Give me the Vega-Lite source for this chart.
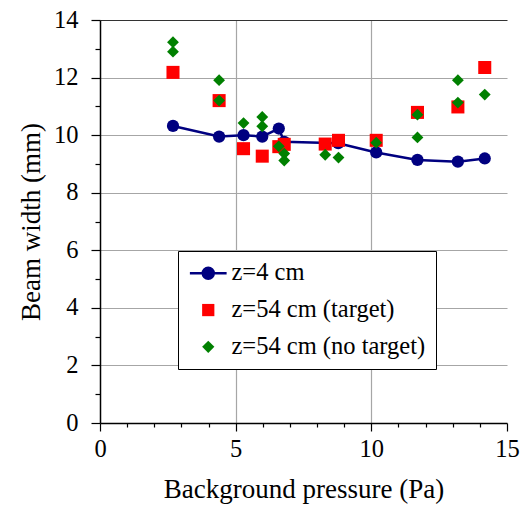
{
  "$schema": "https://vega.github.io/schema/vega-lite/v6.json",
  "autosize": {"type": "none"},
  "padding": {"left": 100, "top": 20, "right": 17, "bottom": 85},
  "width": 407,
  "height": 403,
  "config": {
    "view": {"stroke": null},
    "font": "Liberation Serif",
    "axis": {
      "labelFont": "Liberation Serif",
      "titleFont": "Liberation Serif",
      "labelColor": "black",
      "titleColor": "black",
      "titleFontWeight": "normal",
      "domainColor": "black",
      "domainWidth": 1.5,
      "tickColor": "black",
      "tickWidth": 1.2,
      "labelFontSize": 24.5,
      "titleFontSize": 27
    },
    "legend": {
      "labelFont": "Liberation Serif",
      "title": null,
      "orient": "none",
      "legendX": 78,
      "legendY": 231,
      "fillColor": "white",
      "strokeColor": "black",
      "padding": 10,
      "symbolOffset": 8,
      "labelOffset": 11,
      "rowPadding": 11.8,
      "labelFontSize": 24.5,
      "labelLimit": 400,
      "labelColor": "black",
      "symbolSize": 150,
      "symbolOpacity": 1,
      "symbolStrokeWidth": 2.5
    }
  },
  "data": {
    "values": [
      {"series": "z=4 cm", "p": 2.69, "w": 10.32},
      {"series": "z=4 cm", "p": 4.39, "w": 9.95},
      {"series": "z=4 cm", "p": 5.29, "w": 10.0},
      {"series": "z=4 cm", "p": 5.98, "w": 9.95},
      {"series": "z=4 cm", "p": 6.59, "w": 10.23},
      {"series": "z=4 cm", "p": 6.79, "w": 9.77},
      {"series": "z=4 cm", "p": 8.78, "w": 9.72},
      {"series": "z=4 cm", "p": 10.18, "w": 9.4},
      {"series": "z=4 cm", "p": 11.7, "w": 9.14},
      {"series": "z=4 cm", "p": 13.19, "w": 9.08},
      {"series": "z=4 cm", "p": 14.18, "w": 9.19},
      {"series": "z=54 cm (target)", "p": 2.69, "w": 12.18},
      {"series": "z=54 cm (target)", "p": 4.39, "w": 11.2},
      {"series": "z=54 cm (target)", "p": 5.29, "w": 9.53},
      {"series": "z=54 cm (target)", "p": 5.98, "w": 9.27},
      {"series": "z=54 cm (target)", "p": 6.59, "w": 9.6},
      {"series": "z=54 cm (target)", "p": 6.79, "w": 9.68},
      {"series": "z=54 cm (target)", "p": 8.3, "w": 9.69},
      {"series": "z=54 cm (target)", "p": 8.79, "w": 9.82},
      {"series": "z=54 cm (target)", "p": 10.18, "w": 9.82},
      {"series": "z=54 cm (target)", "p": 11.7, "w": 10.79},
      {"series": "z=54 cm (target)", "p": 13.19, "w": 10.98},
      {"series": "z=54 cm (target)", "p": 14.18, "w": 12.35},
      {"series": "z=54 cm (no target)", "p": 2.69, "w": 13.23},
      {"series": "z=54 cm (no target)", "p": 2.69, "w": 12.9},
      {"series": "z=54 cm (no target)", "p": 4.39, "w": 11.91},
      {"series": "z=54 cm (no target)", "p": 4.39, "w": 11.2},
      {"series": "z=54 cm (no target)", "p": 5.29, "w": 10.42},
      {"series": "z=54 cm (no target)", "p": 5.98, "w": 10.63},
      {"series": "z=54 cm (no target)", "p": 5.98, "w": 10.31},
      {"series": "z=54 cm (no target)", "p": 6.59, "w": 9.61},
      {"series": "z=54 cm (no target)", "p": 6.79, "w": 9.36},
      {"series": "z=54 cm (no target)", "p": 6.79, "w": 9.12},
      {"series": "z=54 cm (no target)", "p": 8.3, "w": 9.32},
      {"series": "z=54 cm (no target)", "p": 8.79, "w": 9.22},
      {"series": "z=54 cm (no target)", "p": 10.18, "w": 9.74},
      {"series": "z=54 cm (no target)", "p": 11.7, "w": 10.71},
      {"series": "z=54 cm (no target)", "p": 11.7, "w": 9.92},
      {"series": "z=54 cm (no target)", "p": 13.19, "w": 11.91},
      {"series": "z=54 cm (no target)", "p": 13.19, "w": 11.13},
      {"series": "z=54 cm (no target)", "p": 14.18, "w": 11.41}
    ]
  },
  "encoding": {
    "x": {
      "field": "p", "type": "quantitative",
      "scale": {"domain": [0, 15], "nice": false, "zero": false},
      "axis": {
        "title": "Background pressure (Pa)",
        "values": [0,1,2,3,4,5,6,7,8,9,10,11,12,13,14,15],
        "labelExpr": "datum.value % 5 === 0 ? datum.label : ''",
        "tickSize": {"condition": {"test": "datum.value % 5 === 0", "value": 8}, "value": 4},
        "grid": true,
        "gridColor": "#a6a6a6",
        "gridWidth": 1.2,
        "gridOpacity": {"condition": {"test": "datum.value === 5 || datum.value === 10", "value": 1}, "value": 0},
        "labelPadding": 6,
        "titlePadding": 16,
        "labelFlush": false
      }
    },
    "y": {
      "field": "w", "type": "quantitative",
      "scale": {"domain": [0, 14], "nice": false},
      "axis": {
        "title": "Beam width (mm)",
        "values": [0,1,2,3,4,5,6,7,8,9,10,11,12,13,14],
        "labelExpr": "datum.value % 2 === 0 ? datum.label : ''",
        "tickSize": {"condition": {"test": "datum.value % 2 === 0", "value": 9}, "value": 5},
        "grid": true,
        "gridColor": {"condition": {"test": "datum.value === 14", "value": "#333333"}, "value": "#a6a6a6"},
        "gridWidth": 1.2,
        "gridOpacity": {"condition": {"test": "datum.value % 2 === 0 && datum.value > 0", "value": 1}, "value": 0},
        "labelPadding": 13,
        "titlePadding": 8,
        "labelFlush": false
      }
    }
  },
  "layer": [
    {
      "transform": [{"filter": "datum.series === 'z=4 cm'"}],
      "mark": {"type": "line", "color": "#000080", "strokeWidth": 2.5}
    },
    {
      "transform": [{"filter": "datum.series === 'z=4 cm'"}],
      "mark": {"type": "point", "shape": "circle", "filled": true, "opacity": 1, "color": "#000080", "size": 150}
    },
    {
      "transform": [{"filter": "datum.series === 'z=54 cm (target)'"}],
      "mark": {"type": "point", "shape": "square", "filled": true, "opacity": 1, "color": "#ff0000", "size": 170}
    },
    {
      "transform": [{"filter": "datum.series === 'z=54 cm (no target)'"}],
      "mark": {"type": "point", "shape": "diamond", "filled": true, "opacity": 1, "color": "#008000", "size": 140}
    },
    {
      "mark": {"type": "point", "opacity": 0},
      "encoding": {
        "fill": {
          "field": "series", "type": "nominal",
          "scale": {"domain": ["z=4 cm", "z=54 cm (target)", "z=54 cm (no target)"], "range": ["#000080", "#ff0000", "#008000"]},
          "legend": {"title": null, "orient": "none", "legendX": 78, "legendY": 231}
        },
        "stroke": {
          "field": "series", "type": "nominal",
          "scale": {"domain": ["z=4 cm", "z=54 cm (target)", "z=54 cm (no target)"], "range": ["#000080", "transparent", "transparent"]},
          "legend": {"title": null, "orient": "none", "legendX": 78, "legendY": 231}
        },
        "shape": {
          "field": "series", "type": "nominal",
          "scale": {"domain": ["z=4 cm", "z=54 cm (target)", "z=54 cm (no target)"], "range": ["M-3,0H-0.9M0.9,0H3M-0.9,0A0.9,0.9,0,1,1,0.9,0A0.9,0.9,0,1,1,-0.9,0Z", "square", "diamond"]},
          "legend": {"title": null, "orient": "none", "legendX": 78, "legendY": 231}
        }
      }
    }
  ]
}
